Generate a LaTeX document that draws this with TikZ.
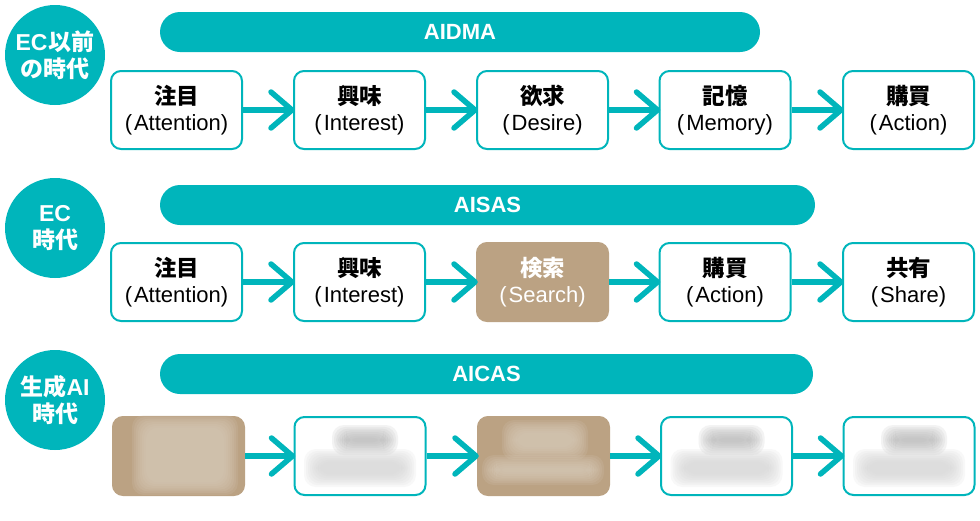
\documentclass[tikz,border=0pt]{standalone}
\usepackage{fontspec}
\setmainfont{Liberation Sans}
\newfontfamily\jp{Noto Sans CJK JP}
\usetikzlibrary{calc}
\definecolor{teal}{HTML}{00B5BB}
\definecolor{tan}{HTML}{BBA283}
\definecolor{tanlight}{HTML}{D8CBBA}
\definecolor{blurgray}{HTML}{B8B8B8}
\definecolor{blurlight}{HTML}{D6D6D6}
\tikzset{
  era/.style={circle, fill=teal, minimum size=100pt, inner sep=0pt, text=white, align=center,
    font=\bfseries\fontsize{23}{27}\selectfont},
  banner/.style={rectangle, rounded corners=20pt, fill=teal, minimum height=40pt, inner sep=0pt,
    text=white, font=\bfseries\fontsize{22}{24}\selectfont},
  stepbox/.style={rectangle, rounded corners=10pt, draw=teal, line width=2pt, fill=white,
    minimum width=131pt, minimum height=78pt, inner sep=0pt, align=center,
    font=\fontsize{22}{26.5}\selectfont},
  tanbox/.style={stepbox, draw=tan, fill=tan, text=white},
  flow/.style={draw=teal, line width=5.5pt},
  chev/.style={draw=teal, line width=5.5pt, line cap=round, line join=round},
}
\newcommand{\jt}[1]{{\jp\bfseries\fontsize{22.5}{26.5}\selectfont #1}}
\newcommand{\jc}[1]{{\jp\bfseries #1}}
\newcommand{\blob}[5]{%
  \foreach \k in {0,...,7}{
    \fill[#5, opacity=0.17, rounded corners=12pt]
      ($(#1-#3/2+\k*2.0, #2-#4/2+\k*1.8)$) rectangle ($(#1+#3/2-\k*2.0, #2+#4/2-\k*1.8)$);
  }}
\newcommand{\chevron}[1]{%
  \draw[chev] ($(#1.west)+(-22,-18)$) -- ($(#1.west)+(-1,0)$) -- ($(#1.west)+(-22,18)$);}
\begin{document}
\begin{tikzpicture}[x=1pt, y=-1pt]
\useasboundingbox (0,0) rectangle (980,520);
% era circles
\node[era] (e1) at (55,55) {EC\kern1pt\jc{以前}\\\jc{の時代}};
\node[era] (e2) at (55,228) {EC\\\jc{時代}};
\node[era] (e3) at (55,400) {\jc{生成}AI\\\jc{時代}};
% banners
\node[banner, minimum width=600pt] (b1) at (460,32) {AIDMA};
\node[banner, minimum width=655pt] (b2) at (487.5,205) {AISAS};
\node[banner, minimum width=653pt] (b3) at (486.5,374) {AICAS};
% row 1
\node[stepbox] (r1a) at (176.5,110) {\jt{注目}\\(\kern2pt Attention)};
\node[stepbox] (r1b) at (359.5,110) {\jt{興味}\\(\kern2pt Interest)};
\node[stepbox] (r1c) at (542.5,110) {\jt{欲求}\\(\kern2pt Desire)};
\node[stepbox] (r1d) at (725,110) {\jt{記憶}\\(\kern2pt Memory)};
\node[stepbox] (r1e) at (908.5,110) {\jt{購買}\\(\kern2pt Action)};
% row 2
\node[stepbox] (r2a) at (176.5,282) {\jt{注目}\\(\kern2pt Attention)};
\node[stepbox] (r2b) at (359.5,282) {\jt{興味}\\(\kern2pt Interest)};
\node[tanbox] (r2c) at (542.5,282) {\jt{検索}\\(\kern2pt Search)};
\node[stepbox] (r2d) at (725,282) {\jt{購買}\\(\kern2pt Action)};
\node[stepbox] (r2e) at (908.5,282) {\jt{共有}\\(\kern2pt Share)};
% row 3
\node[tanbox] (r3a) at (178.5,456) {};
\node[stepbox] (r3b) at (360,456) {};
\node[tanbox] (r3c) at (543.5,456) {};
\node[stepbox] (r3d) at (726.5,456) {};
\node[stepbox] (r3e) at (909,456) {};
% blurred contents
\blob{185}{455}{106}{80}{tanlight}
\blob{545}{440}{86}{40}{tanlight}
\blob{543}{470}{122}{30}{tanlight}
\foreach \n/\cx in {r3b/360, r3d/726.5, r3e/909}{
  \blob{\cx+5}{440}{66}{30}{blurgray}
  \blob{\cx}{468}{112}{38}{blurlight}
}
% connectors
\foreach \a/\b in {r1a/r1b, r1b/r1c, r1c/r1d, r1d/r1e,
                   r2a/r2b, r2b/r2c, r2c/r2d, r2d/r2e,
                   r3a/r3b, r3b/r3c, r3c/r3d, r3d/r3e}{
  \draw[flow] (\a.east) -- ($(\b.west)+(-3,0)$);
  \chevron{\b}
}
\end{tikzpicture}
\end{document}
